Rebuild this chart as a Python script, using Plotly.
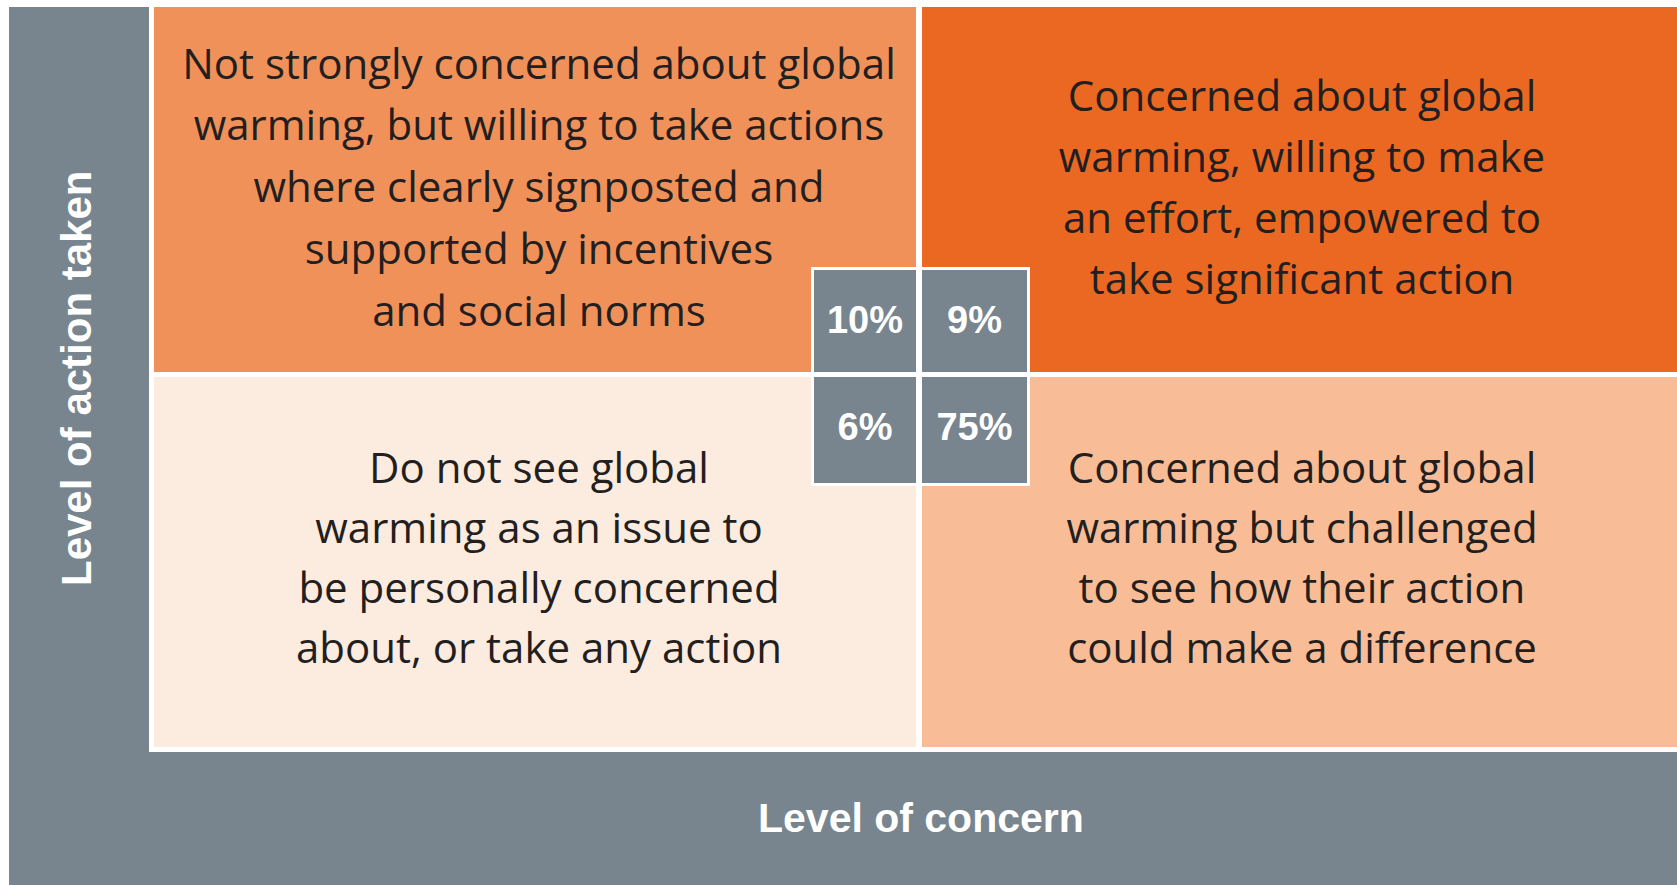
import plotly.graph_objects as go

# ---------------- data ----------------
tl_lines = ["Not strongly concerned about global",
            "warming, but willing to take actions",
            "where clearly signposted and",
            "supported by incentives",
            "and social norms"]
tr_lines = ["Concerned about global",
            "warming, willing to make",
            "an effort, empowered to",
            "take significant action"]
bl_lines = ["Do not see global",
            "warming as an issue to",
            "be personally concerned",
            "about, or take any action"]
br_lines = ["Concerned about global",
            "warming but challenged",
            "to see how their action",
            "could make a difference"]
shares = [10, 9, 6, 75]            # TL, TR, BL, BR
share_labels = [f"{v}%" for v in shares]
x_axis_label = "Level of concern"
y_axis_label = "Level of action taken"

# ---------------- style / layout ----------------
W, H = 1677, 885
GRAY = "#78858F"
TEXT = "#231F20"
quad_colors = ["#F0915A", "#EB6822", "#FCEBDF", "#F8BD96"]   # TL, TR, BL, BR

col_x = [(154, 916), (922, 1677)]
row_y = [(7, 372), (377, 747)]
box_x = [(814, 916), (922, 1027)]
box_y = [(270, 372), (377, 483)]

line_x = [539, 1302]
line_y0 = [[68, 100], [472, 472]]
pitch = [[61.8, 61.3], [60.3, 60.3]]
MAIN_FONT = "Open Sans"
MAIN_SIZE = 42

shapes = []
def rect(x0, y0, x1, y1, color):
    shapes.append(dict(type="rect", xref="x", yref="y", x0=x0, y0=y0, x1=x1, y1=y1,
                       fillcolor=color, line=dict(width=0), layer="below"))

# gray panel and white frame around the grid
rect(9, 7, W, H, GRAY)
rect(149, 7, W, 752, "white")
# quadrants
k = 0
for r in range(2):
    for c in range(2):
        rect(col_x[c][0], row_y[r][0], col_x[c][1], row_y[r][1], quad_colors[k])
        k += 1
# centre box (white border + gray cells)
rect(811, 267, 1030, 486, "white")
for r in range(2):
    for c in range(2):
        rect(box_x[c][0], box_y[r][0], box_x[c][1], box_y[r][1], GRAY)

fig = go.Figure()

# quadrant descriptions
all_lines = [[tl_lines, tr_lines], [bl_lines, br_lines]]
for r in range(2):
    for c in range(2):
        lines = all_lines[r][c]
        ys = [line_y0[r][c] + i * pitch[r][c] for i in range(len(lines))]
        fig.add_trace(go.Scatter(
            x=[line_x[c]] * len(lines), y=ys, text=lines, mode="text",
            textposition="middle center",
            textfont=dict(family=MAIN_FONT, size=MAIN_SIZE, color=TEXT),
            hoverinfo="skip", showlegend=False))

# share labels
px, py = [], []
for r in range(2):
    for c in range(2):
        px.append((box_x[c][0] + box_x[c][1]) / 2)
        py.append((box_y[r][0] + box_y[r][1]) / 2 + (2 if r == 0 else 0))
fig.add_trace(go.Scatter(
    x=px, y=py, text=share_labels, mode="text", textposition="middle center",
    textfont=dict(family="Liberation Sans Narrow, Liberation Sans, Arial", size=38,
                  color="white", weight="bold"),
    hoverinfo="skip", showlegend=False))

annotations = [
    dict(x=921, y=818, xref="x", yref="y", text=f"<b>{x_axis_label}</b>", showarrow=False,
         font=dict(family="Liberation Sans, Arial", size=41, color="white"),
         xanchor="center", yanchor="middle"),
    dict(x=76, y=379, xref="x", yref="y", text=f"<b>{y_axis_label}</b>", showarrow=False,
         textangle=-90,
         font=dict(family="Liberation Sans, Arial", size=42, color="white"),
         xanchor="center", yanchor="middle"),
]

fig.update_layout(
    width=W, height=H, autosize=False,
    margin=dict(l=0, r=0, t=0, b=0, pad=0),
    paper_bgcolor="white", plot_bgcolor="white",
    xaxis=dict(range=[0, W], visible=False, fixedrange=True),
    yaxis=dict(range=[H, 0], visible=False, fixedrange=True),
    shapes=shapes, annotations=annotations,
)

fig.write_html("out.html", config={"displayModeBar": False},
               post_script="document.body.style.margin='0';document.body.style.overflow='hidden';")
